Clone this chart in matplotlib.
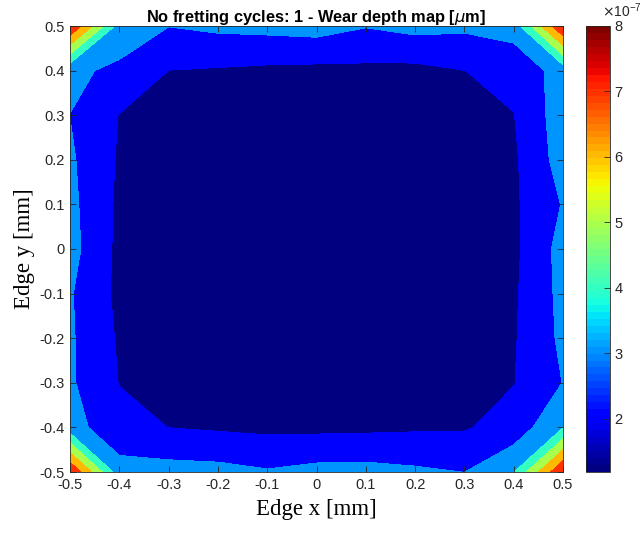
import numpy as np
import matplotlib
matplotlib.use('Agg')
import matplotlib.pyplot as plt
from matplotlib.colors import Normalize
from matplotlib.cm import ScalarMappable
from matplotlib.ticker import FuncFormatter

plt.rcParams['axes.unicode_minus'] = False
plt.rcParams['font.family'] = ['Liberation Sans', 'DejaVu Sans']

# grid (mm)
x_mm = [-0.5, -0.4, -0.3, -0.2, -0.1, 0.0, 0.1, 0.2, 0.3, 0.4, 0.5]
y_mm = [0.5, 0.4, 0.3, 0.2, 0.1, 0.0, -0.1, -0.2, -0.3, -0.4, -0.5]

# wear depth, units of 1e-7 (rows from y=0.5 down to y=-0.5)
wear_e7 = [
    [8.00, 3.60, 3.02, 3.21, 3.30, 3.42, 3.05, 3.32, 3.19, 3.40, 8.00],
    [3.20, 2.80, 1.99, 1.91, 1.81, 1.75, 1.78, 1.73, 1.99, 2.35, 3.40],
    [2.99, 1.97, 1.21, 1.20, 1.20, 1.20, 1.20, 1.20, 1.21, 1.97, 3.55],
    [3.15, 1.89, 1.20, 1.19, 1.20, 1.20, 1.20, 1.19, 1.20, 1.84, 3.45],
    [3.26, 1.81, 1.20, 1.20, 1.20, 1.20, 1.20, 1.20, 1.20, 1.84, 3.06],
    [3.35, 1.76, 1.20, 1.20, 1.20, 1.19, 1.20, 1.20, 1.20, 1.78, 3.37],
    [3.09, 1.76, 1.20, 1.20, 1.20, 1.20, 1.20, 1.20, 1.20, 1.86, 3.29],
    [3.13, 1.88, 1.20, 1.19, 1.20, 1.20, 1.20, 1.19, 1.20, 1.91, 3.21],
    [3.14, 1.97, 1.21, 1.20, 1.20, 1.20, 1.20, 1.20, 1.21, 1.97, 3.02],
    [3.40, 2.32, 1.99, 1.87, 1.78, 1.77, 1.80, 1.87, 1.91, 2.39, 3.95],
    [8.00, 3.40, 3.38, 3.32, 3.09, 3.31, 3.34, 3.17, 2.99, 3.95, 8.00],
]
inner_levels = [2, 3, 4, 5, 6, 7]
cbar_ticks = [2, 3, 4, 5, 6, 7, 8]

wear = np.array(wear_e7) * 1e-7
vmin, vmax = wear.min(), wear.max()
levels = [vmin] + [v * 1e-7 for v in inner_levels] + [vmax]
cmap = plt.get_cmap('jet', 64)
band_colors = [cmap((lv - vmin) / (vmax - vmin)) for lv in levels[:-1]]

fig = plt.figure(figsize=(6.43, 5.33), dpi=100)
ax = fig.add_axes([70 / 643, 61 / 533, 493 / 643, 446 / 533])
ax.contourf(x_mm, y_mm, wear, levels=levels, colors=band_colors)

ax.set_xlim(-0.5, 0.5)
ax.set_ylim(-0.5, 0.5)
ticks = sorted(x_mm)
fmt = FuncFormatter(lambda v, p: '0' if abs(v) < 1e-9 else '%.1f' % v)
ax.set_xticks(ticks)
ax.set_yticks(ticks)
ax.xaxis.set_major_formatter(fmt)
ax.yaxis.set_major_formatter(fmt)
ax.tick_params(direction='in', top=True, right=True, length=4, width=0.6,
               labelsize=10.5, color='0.15', labelcolor='0.15', pad=4)
for s in ax.spines.values():
    s.set_color('0.15')
    s.set_linewidth(0.6)

ax.set_xlabel('Edge x [mm]', family=['Liberation Serif'], fontsize=16.5, labelpad=5)
ax.set_ylabel('Edge y [mm]', family=['Liberation Serif'], fontsize=16.5, labelpad=3)
ax.set_title(r'No fretting cycles: 1 - Wear depth map [$\mu$m]', fontsize=11.8,
             fontweight='bold', pad=3)

cax = fig.add_axes([586 / 643, 61 / 533, 24 / 643, 446 / 533])
sm = ScalarMappable(norm=Normalize(vmin, vmax), cmap=cmap)
cb = fig.colorbar(sm, cax=cax)
cb.set_ticks([t * 1e-7 for t in cbar_ticks])
cb.set_ticklabels([str(t) for t in cbar_ticks])
cax.tick_params(direction='in', length=4, width=0.6, labelsize=10.5,
                color='0.15', labelcolor='0.15', pad=3)
cb.outline.set_edgecolor('0.15')
cb.outline.set_linewidth(0.6)
fig.text(602 / 643, 1 - 17 / 533, r'$\times\mathregular{10^{-7}}$', fontsize=10,
         color='0.15', va='baseline')

fig.savefig('out.png', dpi=100)
